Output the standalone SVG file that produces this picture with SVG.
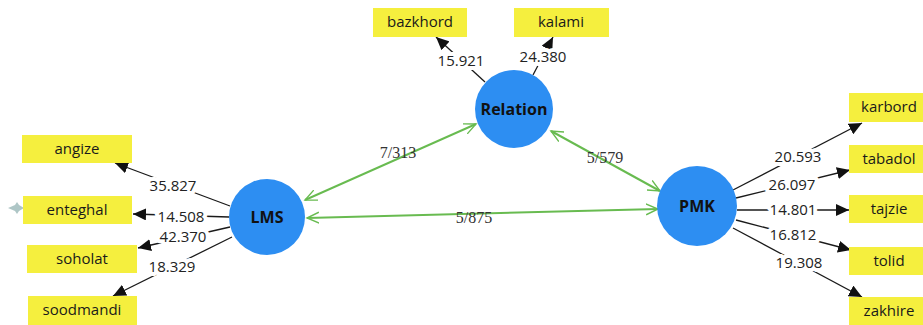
<svg xmlns="http://www.w3.org/2000/svg" width="923" height="325" viewBox="0 0 923 325">
<style>
.box{fill:#f5ef3e}
.bt{font-family:"Open Sans","Noto Sans",sans-serif;font-size:15px;fill:#1a1a1a;text-anchor:middle}
.lv{fill:#2d8ef2}
.lt{font-family:"Open Sans","Noto Sans",sans-serif;font-size:16px;font-weight:bold;fill:#111;text-anchor:middle}
.ol{stroke:#1a1a1a;stroke-width:1.3;fill:none;marker-end:url(#ah)}
.num{font-family:"Open Sans","Noto Sans",sans-serif;font-size:15px;fill:#222;text-anchor:middle;stroke:#fff;stroke-width:8;paint-order:stroke;stroke-linejoin:round}
.gl{stroke:#68bb50;stroke-width:2;fill:none;marker-start:url(#ga);marker-end:url(#ga)}
.gt{font-family:"Liberation Serif","Times New Roman",serif;font-size:16px;fill:#333;text-anchor:middle}
</style>
<defs>
<marker id="ah" markerUnits="userSpaceOnUse" markerWidth="14" markerHeight="12" refX="13" refY="6" orient="auto">
<path d="M0,0 L13,6 L0,12 Z" fill="#111"/>
</marker>
<marker id="ga" markerUnits="userSpaceOnUse" markerWidth="14" markerHeight="14" refX="12" refY="7" orient="auto-start-reverse">
<path d="M0,1.5 L12,7 L0,12.5" fill="none" stroke="#68bb50" stroke-width="1.4"/>
</marker>
</defs>

<g id="connectors">
<line class="gl" x1="305" y1="200" x2="476" y2="124"/>
<line class="gl" x1="551" y1="131" x2="660" y2="191"/>
<line class="gl" x1="307" y1="218" x2="658" y2="209"/>
<text class="gt" x="398" y="158">7/313</text>
<text class="gt" x="605" y="163">5/579</text>
<text class="gt" x="474" y="223">5/875</text>

<line class="ol" x1="230" y1="206" x2="115" y2="163"/>
<line class="ol" x1="229" y1="217" x2="133" y2="214"/>
<line class="ol" x1="230" y1="227" x2="138" y2="248"/>
<line class="ol" x1="232" y1="237" x2="113" y2="296"/>
<line class="ol" x1="485" y1="82" x2="436" y2="37"/>
<line class="ol" x1="533" y1="75" x2="553" y2="37"/>
<line class="ol" x1="733" y1="190" x2="862" y2="123"/>
<line class="ol" x1="736" y1="198" x2="850" y2="170"/>
<line class="ol" x1="737" y1="210" x2="849" y2="210"/>
<line class="ol" x1="736" y1="220" x2="851" y2="250"/>
<line class="ol" x1="733" y1="228" x2="862" y2="297"/>

<text class="num" x="173" y="191">35.827</text>
<text class="num" x="181" y="222">14.508</text>
<text class="num" x="183" y="242">42.370</text>
<text class="num" x="172" y="272">18.329</text>
<text class="num" x="461" y="66">15.921</text>
<text class="num" x="543" y="62">24.380</text>
<text class="num" x="798" y="162">20.593</text>
<text class="num" x="792" y="190">26.097</text>
<text class="num" x="793" y="215">14.801</text>
<text class="num" x="793" y="240">16.812</text>
<text class="num" x="799" y="268">19.308</text>
</g>

<path d="M8,208 L15,205 L17,202 L19,205 L24,208 L19,211 L17,214 L15,211 Z" fill="#9ab8b8" opacity="0.8"/>

<g id="LMS"><circle class="lv" cx="267" cy="217" r="38"/><text class="lt" x="267" y="223">LMS</text></g>
<g id="Relation"><circle class="lv" cx="514" cy="109" r="39"/><text class="lt" x="514" y="115">Relation</text></g>
<g id="PMK"><circle class="lv" cx="697" cy="206" r="40"/><text class="lt" x="697" y="212">PMK</text></g>

<g id="angize"><rect class="box" x="22" y="135" width="110" height="28"/><text class="bt" x="77" y="154">angize</text></g>
<g id="enteghal"><rect class="box" x="23" y="196" width="109" height="28"/><text class="bt" x="77" y="215">enteghal</text></g>
<g id="soholat"><rect class="box" x="27" y="245" width="110" height="28"/><text class="bt" x="82" y="264">soholat</text></g>
<g id="soodmandi"><rect class="box" x="28" y="296" width="109" height="29"/><text class="bt" x="82" y="315">soodmandi</text></g>
<g id="bazkhord"><rect class="box" x="373" y="8" width="94" height="29"/><text class="bt" x="420" y="27">bazkhord</text></g>
<g id="kalami"><rect class="box" x="514" y="8" width="95" height="29"/><text class="bt" x="561" y="27">kalami</text></g>
<g id="karbord"><rect class="box" x="849" y="93" width="74" height="29"/><text class="bt" x="889" y="112">karbord</text></g>
<g id="tabadol"><rect class="box" x="849" y="145" width="74" height="28"/><text class="bt" x="889" y="164">tabadol</text></g>
<g id="tajzie"><rect class="box" x="849" y="195" width="74" height="28"/><text class="bt" x="889" y="214">tajzie</text></g>
<g id="tolid"><rect class="box" x="849" y="247" width="74" height="28"/><text class="bt" x="889" y="266">tolid</text></g>
<g id="zakhire"><rect class="box" x="849" y="297" width="74" height="28"/><text class="bt" x="889" y="316">zakhire</text></g>
</svg>
